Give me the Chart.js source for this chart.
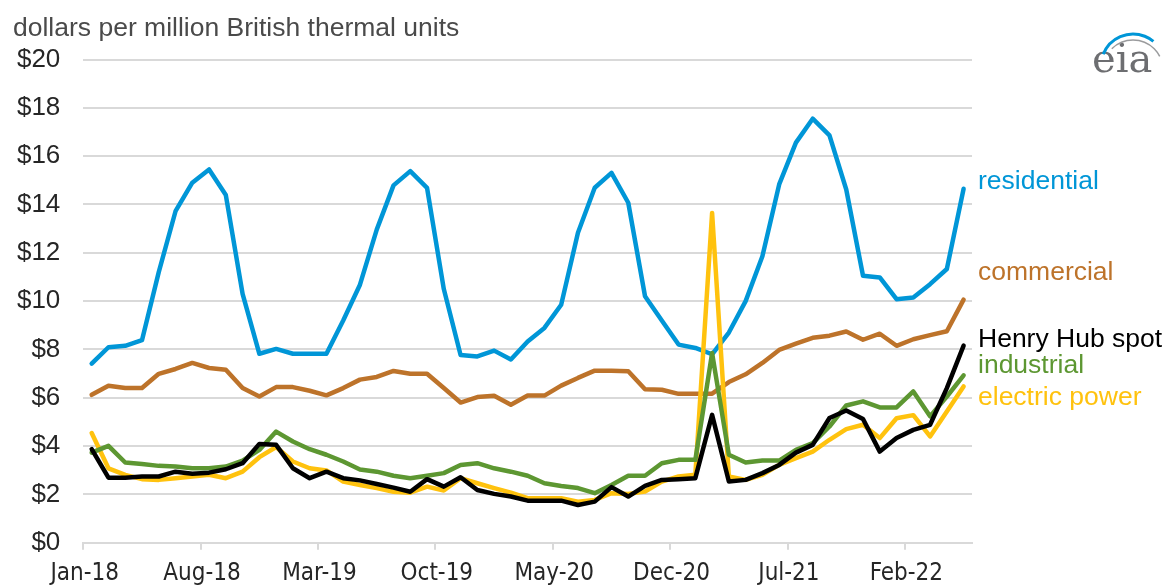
<!DOCTYPE html>
<html>
<head>
<meta charset="utf-8">
<script src="https://cdn.jsdelivr.net/npm/chart.js@4.4.1/dist/chart.umd.min.js"></script>
<style>
  html, body { margin: 0; padding: 0; background: #fff; }
  #wrap { width: 1167px; height: 588px; }
</style>
</head>
<body>
<div id="wrap"><canvas id="gasChart" width="1167" height="588"></canvas></div>
<script>
// monthly prices, Jan-18 .. May-22
const months = [
  'Jan-18','Feb-18','Mar-18','Apr-18','May-18','Jun-18','Jul-18','Aug-18','Sep-18','Oct-18','Nov-18','Dec-18',
  'Jan-19','Feb-19','Mar-19','Apr-19','May-19','Jun-19','Jul-19','Aug-19','Sep-19','Oct-19','Nov-19','Dec-19',
  'Jan-20','Feb-20','Mar-20','Apr-20','May-20','Jun-20','Jul-20','Aug-20','Sep-20','Oct-20','Nov-20','Dec-20',
  'Jan-21','Feb-21','Mar-21','Apr-21','May-21','Jun-21','Jul-21','Aug-21','Sep-21','Oct-21','Nov-21','Dec-21',
  'Jan-22','Feb-22','Mar-22','Apr-22','May-22'
];

const residential = [
  7.41, 8.09, 8.15, 8.38, 11.2, 13.72, 14.90, 15.45, 14.39, 10.3,
  7.82, 8.02, 7.82, 7.82, 7.82, 9.2, 10.68, 12.96, 14.79, 15.38,
  14.69, 10.5, 7.77, 7.71, 7.95, 7.58, 8.33, 8.89, 9.85, 12.83,
  14.69, 15.31, 14.07, 10.2, 9.2, 8.2, 8.06, 7.8, 8.7, 10.0,
  11.86, 14.83, 16.56, 17.55, 16.86, 14.62, 11.05, 10.98, 10.08, 10.15,
  10.7, 11.33, 14.65
];
const commercial = [
  6.12, 6.50, 6.40, 6.40, 6.99, 7.19, 7.44, 7.23, 7.16, 6.40,
  6.05, 6.44, 6.44, 6.29, 6.10, 6.40, 6.75, 6.86, 7.11, 6.99,
  6.99, 6.40, 5.80, 6.03, 6.08, 5.71, 6.09, 6.09, 6.50, 6.82,
  7.12, 7.12, 7.10, 6.35, 6.33, 6.16, 6.16, 6.17, 6.65, 6.97,
  7.44, 7.98, 8.24, 8.48, 8.57, 8.74, 8.40, 8.65, 8.15, 8.42,
  8.59, 8.75, 10.06
];
const henryHub = [
  3.87, 2.69, 2.69, 2.74, 2.74, 2.94, 2.85, 2.90, 3.04, 3.29,
  4.09, 4.05, 3.08, 2.67, 2.94, 2.67, 2.58, 2.43, 2.28, 2.11,
  2.63, 2.32, 2.71, 2.18, 2.02, 1.91, 1.74, 1.74, 1.74, 1.56,
  1.70, 2.30, 1.91, 2.35, 2.60, 2.63, 2.67, 5.29, 2.53, 2.60,
  2.88, 3.22, 3.73, 4.05, 5.16, 5.47, 5.12, 3.77, 4.33, 4.67,
  4.88, 6.40, 8.16
];
const industrial = [
  3.73, 4.01, 3.32, 3.26, 3.18, 3.15, 3.08, 3.08, 3.15, 3.40,
  3.84, 4.60, 4.19, 3.87, 3.64, 3.36, 3.03, 2.94, 2.77, 2.67,
  2.77, 2.88, 3.22, 3.29, 3.08, 2.94, 2.77, 2.46, 2.35, 2.26,
  2.05, 2.39, 2.77, 2.77, 3.29, 3.43, 3.43, 7.85, 3.64, 3.32,
  3.40, 3.40, 3.84, 4.12, 4.81, 5.68, 5.85, 5.60, 5.60, 6.26,
  5.23, 6.05, 6.93
];
const electricPower = [
  4.54, 3.08, 2.81, 2.63, 2.60, 2.67, 2.74, 2.81, 2.67, 2.94,
  3.54, 3.96, 3.36, 3.08, 2.99, 2.53, 2.39, 2.26, 2.11, 2.07,
  2.32, 2.16, 2.67, 2.46, 2.26, 2.07, 1.84, 1.84, 1.84, 1.70,
  1.77, 2.05, 2.02, 2.12, 2.53, 2.74, 2.81, 13.65, 2.74, 2.60,
  2.81, 3.22, 3.50, 3.77, 4.26, 4.70, 4.88, 4.33, 5.15, 5.28,
  4.40, 5.43, 6.47
];

const unitTitle = 'dollars per million British thermal units';
const FONT = '"Liberation Sans", Arial, sans-serif';
const NARROW = '"Liberation Sans Narrow", "Arial Narrow", "DejaVu Sans Condensed", sans-serif';

// series: name, data, colour; first in list is drawn on top
const series = [
  { name: 'Henry Hub spot', data: henryHub, color: '#000000', labelAt: 8.11 },
  { name: 'industrial', data: industrial, color: '#5d9732', labelAt: 7.04 },
  { name: 'electric power', data: electricPower, color: '#ffc20e', labelAt: 5.71 },
  { name: 'commercial', data: commercial, color: '#bd732a', labelAt: 10.89 },
  { name: 'residential', data: residential, color: '#0096d7', labelAt: 14.66 }
];

// title, line end labels and the little eia mark
const overlay = {
  id: 'overlay',
  afterDraw(chart) {
    const ctx = chart.ctx;
    const y = chart.scales.y;
    const area = chart.chartArea;
    ctx.save();
    ctx.textBaseline = 'alphabetic';
    ctx.textAlign = 'left';
    ctx.font = '26.5px ' + FONT;
    ctx.fillStyle = '#4a4a4a';
    ctx.fillText(unitTitle, 13, 36);

    series.forEach(s => {
      ctx.fillStyle = s.color;
      ctx.fillText(s.name, area.right + 6, y.getPixelForValue(s.labelAt));
    });

    // eia logo
    ctx.fillStyle = '#6d6e71';
    ctx.font = '40px "DejaVu Serif", serif';
    ctx.fillText('eia', 1092, 72);
    ctx.strokeStyle = '#0096d7';
    ctx.lineWidth = 3;
    ctx.beginPath();
    ctx.arc(1133, 66, 32, Math.PI * 1.12, Math.PI * 1.72);
    ctx.stroke();
    ctx.strokeStyle = '#9a9b9d';
    ctx.lineWidth = 1.5;
    ctx.beginPath();
    ctx.arc(1133, 70, 30, Math.PI * 1.25, Math.PI * 1.85);
    ctx.stroke();
    ctx.restore();
  }
};

new Chart(document.getElementById('gasChart'), {
  type: 'line',
  data: {
    labels: months,
    datasets: series.map(s => ({
      label: s.name,
      data: s.data,
      borderColor: s.color,
      backgroundColor: s.color,
      borderWidth: 4.5,
      pointRadius: 0,
      tension: 0,
      borderJoinStyle: 'round',
      borderCapStyle: 'round'
    }))
  },
  options: {
    responsive: false,
    animation: false,
    events: [],
    layout: { padding: { top: 59.5, right: 195, left: 13, bottom: 0 } },
    plugins: {
      legend: { display: false },
      tooltip: { enabled: false }
    },
    scales: {
      x: {
        offset: true,
        grid: {
          offset: true,
          drawOnChartArea: false,
          drawTicks: true,
          tickLength: 7,
          lineWidth: 2,
          color: c => (c.index % 7 === 0 ? '#d9d9d9' : 'rgba(0,0,0,0)')
        },
        border: { color: '#d9d9d9', width: 2 },
        ticks: {
          autoSkip: false,
          maxRotation: 0,
          padding: 10,
          labelOffset: -7,
          color: '#262626',
          font: { family: NARROW, size: 24 },
          callback: function (v, i) { return i % 7 === 0 ? this.getLabelForValue(v) : ''; }
        },
        afterFit: s => { s.height = 45.3; }
      },
      y: {
        min: 0,
        max: 20,
        ticks: {
          stepSize: 2,
          padding: 23,
          color: '#262626',
          font: { family: FONT, size: 26 },
          callback: v => '$' + v
        },
        grid: { color: '#d9d9d9', lineWidth: 2, drawTicks: false },
        border: { display: false },
        afterFit: s => { s.width = 70.3; }
      }
    }
  },
  plugins: [overlay]
});
</script>
</body>
</html>
